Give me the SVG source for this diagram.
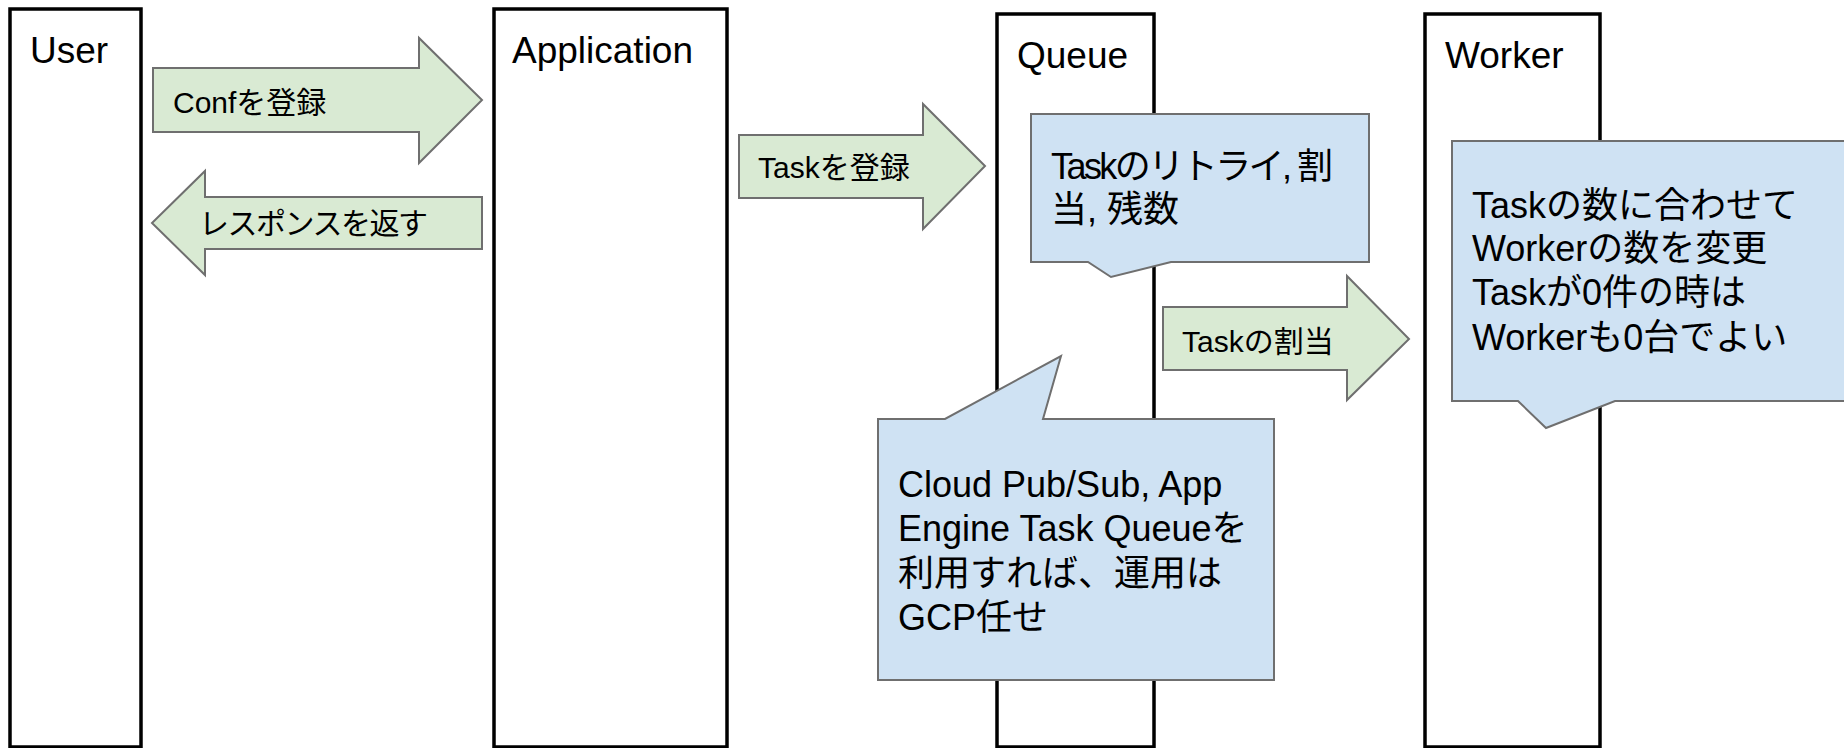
<svg xmlns="http://www.w3.org/2000/svg" width="1844" height="748" viewBox="0 0 1844 748">
  <style>
    .lane { fill: #ffffff; stroke: #000000; stroke-width: 3.5; }
    .lane-title { font-family: "Liberation Sans", "Noto Sans CJK JP", sans-serif; font-size: 37px; fill: #000000; }
    .flow { fill: #d9ead3; stroke: #6f6f6f; stroke-width: 2; stroke-linejoin: miter; }
    .flow-text { font-family: "Liberation Sans", "Noto Sans CJK JP", sans-serif; font-size: 30px; fill: #000000; }
    .note { fill: #cfe2f3; stroke: #6f6f6f; stroke-width: 2; stroke-linejoin: miter; }
    .note-text { font-family: "Liberation Sans", "Noto Sans CJK JP", sans-serif; font-size: 36px; fill: #000000; }
  </style>
  <rect width="1844" height="748" fill="#ffffff"/>

  <!-- swimlane columns -->
  <g id="user">
    <rect class="lane" x="10" y="9" width="131" height="738"/>
    <text class="lane-title" x="30" y="63">User</text>
  </g>
  <g id="application">
    <rect class="lane" x="494" y="9" width="233" height="738"/>
    <text class="lane-title" x="512" y="63">Application</text>
  </g>
  <g id="queue">
    <rect class="lane" x="997" y="14" width="157" height="733"/>
    <text class="lane-title" x="1017" y="68">Queue</text>
  </g>
  <g id="worker">
    <rect class="lane" x="1425" y="14" width="175" height="733"/>
    <text class="lane-title" x="1445" y="68">Worker</text>
  </g>

  <!-- block arrows between columns -->
  <g id="connectors">
    <g id="conf-register">
      <polygon class="flow" points="153,68 419,68 419,38 482,100 419,163 419,132 153,132"/>
      <text class="flow-text" x="173" y="113">Confを登録</text>
    </g>
    <g id="response">
      <polygon class="flow" points="482,197 205,197 205,171 152,223 205,275 205,249 482,249"/>
      <text class="flow-text" x="199" y="234" textLength="229" lengthAdjust="spacing">レスポンスを返す</text>
    </g>
    <g id="task-register">
      <polygon class="flow" points="739,135 923,135 923,104 985,166 923,229 923,198 739,198"/>
      <text class="flow-text" x="758" y="178">Taskを登録</text>
    </g>
    <g id="task-assign">
      <polygon class="flow" points="1163,307 1347,307 1347,276 1409,339 1347,400 1347,370 1163,370"/>
      <text class="flow-text" x="1182" y="352">Taskの割当</text>
    </g>
  </g>

  <!-- callout notes -->
  <g id="note-queue">
    <polygon class="note" points="1031,114 1369,114 1369,262 1171,262 1111,277 1088,262 1031,262"/>
    <text class="note-text" x="1051" y="179" textLength="282" lengthAdjust="spacing">Taskのリトライ, 割</text>
    <text class="note-text" x="1051" y="222">当, 残数</text>
  </g>
  <g id="note-worker">
    <polygon class="note" points="1452,141 1850,141 1850,401 1615,401 1546,428 1518,401 1452,401"/>
    <text class="note-text" x="1472" y="218">Taskの数に合わせて</text>
    <text class="note-text" x="1472" y="261">Workerの数を変更</text>
    <text class="note-text" x="1472" y="305">Taskが0件の時は</text>
    <text class="note-text" x="1472" y="350">Workerも0台でよい</text>
  </g>
  <g id="note-gcp">
    <polygon class="note" points="878,419 945,419 1061,356 1043,419 1274,419 1274,680 878,680"/>
    <text class="note-text" x="898" y="497">Cloud Pub/Sub, App</text>
    <text class="note-text" x="898" y="541">Engine Task Queueを</text>
    <text class="note-text" x="898" y="586">利用すれば、運用は</text>
    <text class="note-text" x="898" y="630">GCP任せ</text>
  </g>
</svg>
